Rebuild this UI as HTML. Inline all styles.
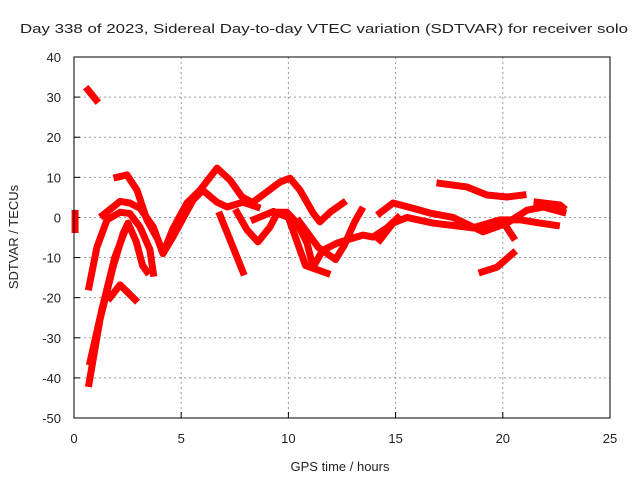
<!DOCTYPE html>
<html><head><meta charset="utf-8"><style>
body{margin:0;background:#fff}
svg text{font-family:"Liberation Sans",sans-serif;font-size:13px;fill:#222}
</style></head><body>
<svg id="chart" width="640" height="480">
<text x="20" y="33" font-size="15" textLength="608" lengthAdjust="spacingAndGlyphs">Day 338 of 2023, Sidereal Day-to-day VTEC variation (SDTVAR) for receiver solo</text>
<text transform="translate(18,237) rotate(-90)" text-anchor="middle" font-size="14">SDTVAR / TECUs</text>
<text x="340" y="471" text-anchor="middle" font-size="14">GPS time / hours</text>
<g id="grid"></g><g id="series"></g>
<rect x="74" y="57" width="536" height="361" fill="none" stroke="#000"/>
</svg>
<script>
const xTicks=[0,5,10,15,20,25];
const yTicks=[-50,-40,-30,-20,-10,0,10,20,30,40];
const s1=[[0.65,31.8],[1.03,29.3]];
const s2=[[0.7,-17.3],[1.07,-7.4],[1.54,-0.6],[2.15,1.3],[2.6,1],[3.08,-2.4],[3.54,-8],[3.7,-13.9]];
const s3=[[0.7,-41.4],[1.21,-25.5],[1.82,-12.4],[2.29,-4],[2.52,-1.4],[2.9,-6],[3.2,-12],[3.4,-13.5]];
const s3b=[[0.75,-36],[1.3,-23],[1.9,-10],[2.4,-3]];
const s4=[[1.68,-20],[2.15,-16.8],[2.85,-20.5]];
const s5=[[1.35,0.6],[2.15,4],[2.6,3.6],[3.08,2.3],[3.7,-2.4],[4.15,-9],[4.6,-3],[5.27,3.6],[5.88,6.8],[6.67,12.3],[7.28,9.3],[7.84,5.1],[8.3,3.8]];
const s5b=[[8.4,4],[9.6,8.8],[10.07,9.8],[10.54,6.8],[11.15,1.1],[11.47,-1.1],[11.94,1.3],[12.55,3.6]];
const s6=[[2.0,10],[2.47,10.6],[2.94,6.8],[3.4,-0.6],[3.92,-5.6],[4.15,-9],[4.6,-5],[5.55,4.3],[6.0,6.8],[6.67,3.8],[7.14,2.6],[7.88,3.8],[8.54,2.6]];
const s7=[[6.81,0.6],[7.28,-5.6],[7.88,-13.6]];
const s8=[[7.6,1.3],[8.07,-3.1],[8.58,-6.1],[9.14,-2.4],[9.5,1.3],[9.93,1.3],[10.4,-1.4],[10.87,-6.4],[11.15,-12.4],[11.6,-8.2],[12.27,-6.4],[12.73,-5.6],[13.48,-4.4],[13.95,-4.9],[14.6,-2.6],[15.1,-0.1]];
const s9=[[8.4,-0.5],[9.3,1.5],[10.0,0],[10.8,-12],[11.8,-13.9]];
const s10=[[10.5,-1],[11.4,-7.5],[12.2,-10.5],[12.6,-7],[13.1,-1],[13.4,1.8]];
const s11=[[17.07,8.5],[18.33,7.6],[19.26,5.6],[20.2,5.1],[20.94,5.6]];
const s12=[[14.27,1.1],[14.88,3.6],[15.81,2.3],[16.6,1.1],[17.68,0],[19.08,-3.6],[20.2,-1.4],[21.13,1.8],[21.88,2.6],[22.8,1.3]];
const s13=[[14.27,-5.6],[14.88,-1.4],[15.53,0],[16.74,-1.4],[18.6,-2.6],[19.87,-0.6],[20.8,-0.6],[21.73,-1.4],[22.5,-2]];
const s14=[[20.0,-1],[20.48,-4.9]];
const s15=[[21.6,3.8],[22.67,3.1],[22.8,2.5]];
const s16=[[19.03,-13.6],[19.73,-12.4],[20.48,-8.9]];
const s17=[[0.05,1],[0.05,-3]];
const allSeries=[s1,s2,s3,s3b,s4,s5,s5b,s6,s7,s8,s9,s10,s11,s12,s13,s14,s15,s16,s17];
const X=v=>74+v*536/25, Y=v=>418-(v+50)*361/90;
const NS='http://www.w3.org/2000/svg';
const g=document.getElementById('grid'), sg=document.getElementById('series');
xTicks.forEach(t=>{
 if(t>0&&t<25){const l=document.createElementNS(NS,'line');l.setAttribute('x1',X(t));l.setAttribute('x2',X(t));l.setAttribute('y1',57);l.setAttribute('y2',418);l.setAttribute('stroke','#999');l.setAttribute('stroke-dasharray','2,3');
 
 g.appendChild(l);}
 const k=document.createElementNS(NS,'line');k.setAttribute('x1',X(t));k.setAttribute('x2',X(t));k.setAttribute('y1',418);k.setAttribute('y2',412);k.setAttribute('stroke','#000');g.appendChild(k);
 const tx=document.createElementNS(NS,'text');tx.setAttribute('x',X(t));tx.setAttribute('y',443);tx.setAttribute('text-anchor','middle');tx.setAttribute('font-size','14');tx.textContent=t;
 
 g.appendChild(tx);
});
yTicks.forEach(t=>{
 if(t>-50&&t<40){const l=document.createElementNS(NS,'line');l.setAttribute('x1',74);l.setAttribute('x2',610);l.setAttribute('y1',Y(t));l.setAttribute('y2',Y(t));l.setAttribute('stroke','#999');l.setAttribute('stroke-dasharray','2,3');
 
 g.appendChild(l);}
 const k=document.createElementNS(NS,'line');k.setAttribute('x1',74);k.setAttribute('x2',80);k.setAttribute('y1',Y(t));k.setAttribute('y2',Y(t));k.setAttribute('stroke','#000');g.appendChild(k);
 const tx=document.createElementNS(NS,'text');tx.setAttribute('x',61);tx.setAttribute('y',Y(t)+5);tx.setAttribute('text-anchor','end');tx.setAttribute('font-size','14');tx.textContent=t;
 
 g.appendChild(tx);
});
allSeries.forEach(s=>{
 const p=document.createElementNS(NS,'polyline');
 p.setAttribute('points',s.map(d=>X(d[0])+','+Y(d[1])).join(' '));
 p.setAttribute('fill','none');p.setAttribute('stroke','#f00');p.setAttribute('stroke-width','7');
 p.setAttribute('stroke-linejoin','round');p.setAttribute('stroke-linecap','square');
 
 
 sg.appendChild(p);
});
</script>
</body></html>
